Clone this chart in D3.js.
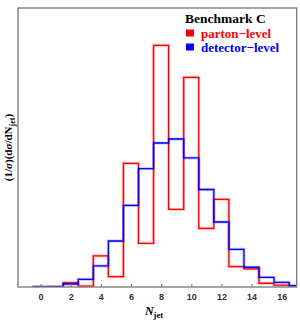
<!DOCTYPE html>
<html>
<head>
<meta charset="utf-8">
<script src="https://d3js.org/d3.v7.min.js"></script>
<style>
body { margin: 0; background: #fff; }
</style>
</head>
<body>
<div id="chart"></div>
<script>
// bin centres (N_jet), one entry per bin of width 1
var bins = [0, 1, 2, 3, 4, 5, 6, 7, 8, 9, 10, 11, 12, 13, 14, 15, 16, 17];
// normalised distributions
var parton = [0, 0.0003, 0.0046, 0.001, 0.0332, 0.011, 0.1323, 0.0467, 0.2585, 0.0831,
              0.2243, 0.0626, 0.0938, 0.0217, 0.0193, 0.004, 0.0021, 0.0011];
var detector = [0.0003, 0.0005, 0.0032, 0.0082, 0.0225, 0.0492, 0.0872, 0.1265, 0.154, 0.1583,
                0.138, 0.1043, 0.0695, 0.0403, 0.0211, 0.0104, 0.005, 0.0014];
var xTicks = [0, 2, 4, 6, 8, 10, 12, 14, 16];
var legendItems = [
  {label: "parton\u2212level", color: "#ff0000"},
  {label: "detector\u2212level", color: "#0000ff"}
];

var W = 300, H = 322;
var margin = {top: 8, right: 3.3, bottom: 35, left: 18};

var svg = d3.select("#chart").append("svg")
  .attr("width", W)
  .attr("height", H);

var x = d3.scaleLinear()
  .domain([-1.5, 17])
  .range([margin.left, W - margin.right]);

var y = d3.scaleLinear()
  .domain([0, 0.2984])
  .range([H - margin.bottom, margin.top]);

svg.append("defs").append("clipPath").attr("id", "clip")
  .append("rect")
  .attr("x", x.range()[0]).attr("y", y.range()[1])
  .attr("width", x.range()[1] - x.range()[0])
  .attr("height", y.range()[0] - y.range()[1]);

// step outline: baseline -> each bin top -> baseline
function stepPoints(vals) {
  var pts = [[bins[0] - 0.5, 0]];
  bins.forEach(function(b, i) {
    pts.push([b - 0.5, vals[i]]);
    pts.push([b + 0.5, vals[i]]);
  });
  pts.push([bins[bins.length - 1] + 0.5, 0]);
  return pts;
}

var line = d3.line()
  .x(function(d) { return x(d[0]); })
  .y(function(d) { return y(d[1]); });

var plot = svg.append("g").attr("clip-path", "url(#clip)");

[[parton, "#ff0000"], [detector, "#0000ff"]].forEach(function(s) {
  // soft halo like the anti-aliased original
  plot.append("path")
    .attr("d", line(stepPoints(s[0])))
    .attr("fill", "none")
    .attr("stroke", s[1])
    .attr("stroke-opacity", 0.25)
    .attr("stroke-width", 3);
  plot.append("path")
    .attr("d", line(stepPoints(s[0])))
    .attr("fill", "none")
    .attr("stroke", s[1])
    .attr("stroke-width", 1.3);
});

// frame
svg.append("rect")
  .attr("x", x.range()[0])
  .attr("y", y.range()[1])
  .attr("width", x.range()[1] - x.range()[0])
  .attr("height", y.range()[0] - y.range()[1])
  .attr("fill", "none")
  .attr("stroke", "#7f7f7f")
  .attr("stroke-width", 1.4);

// bottom axis, ticks pointing inward
var xAxis = svg.append("g")
  .attr("transform", "translate(0," + y(0) + ")")
  .call(d3.axisTop(x).tickValues(xTicks).tickSize(3).tickFormat(d3.format("d")));
xAxis.select(".domain").remove();
xAxis.selectAll(".tick line").attr("stroke", "#7f7f7f").attr("stroke-width", 1.2);
xAxis.selectAll(".tick text")
  .attr("y", 13)
  .attr("dy", 0)
  .attr("fill", "#333")
  .style("font-family", "Arial, 'Liberation Sans', sans-serif")
  .style("font-weight", "bold")
  .style("font-size", "9px");

// x label
var xl = svg.append("text")
  .attr("x", 154)
  .attr("y", 315)
  .attr("text-anchor", "middle")
  .style("font-family", "'Liberation Serif', 'Times New Roman', serif")
  .style("font-weight", "bold")
  .style("font-size", "12px");
xl.append("tspan").style("font-style", "italic").text("N");
xl.append("tspan").attr("dy", 3).style("font-size", "8.5px").text("jet");

// y label
var yl = svg.append("text")
  .attr("transform", "translate(12," + ((y.range()[0] + y.range()[1]) / 2) + ") rotate(-90)")
  .attr("text-anchor", "middle")
  .style("font-family", "'Liberation Serif', 'Times New Roman', serif")
  .style("font-weight", "bold")
  .style("font-size", "11px");
yl.append("tspan").text("(1/");
yl.append("tspan").style("font-style", "italic").text("\u03c3");
yl.append("tspan").text(")(d");
yl.append("tspan").style("font-style", "italic").text("\u03c3");
yl.append("tspan").text("/dN");
yl.append("tspan").attr("dy", 2.5).style("font-size", "8px").text("jet");
yl.append("tspan").attr("dy", -2.5).text(")");

// legend
var lg = svg.append("g")
  .style("font-family", "'Liberation Serif', 'Times New Roman', serif")
  .style("font-weight", "bold");
lg.append("text")
  .attr("x", 185)
  .attr("y", 23)
  .style("font-size", "13.5px")
  .attr("fill", "#000")
  .text("Benchmark C");
legendItems.forEach(function(d, i) {
  var yy = 37.5 + i * 14;
  lg.append("rect")
    .attr("x", 186).attr("y", yy - 8)
    .attr("width", 8).attr("height", 7)
    .attr("fill", d.color);
  lg.append("text")
    .attr("x", 201)
    .attr("y", yy)
    .style("font-size", "13px")
    .attr("fill", d.color)
    .text(d.label);
});
</script>
</body>
</html>
